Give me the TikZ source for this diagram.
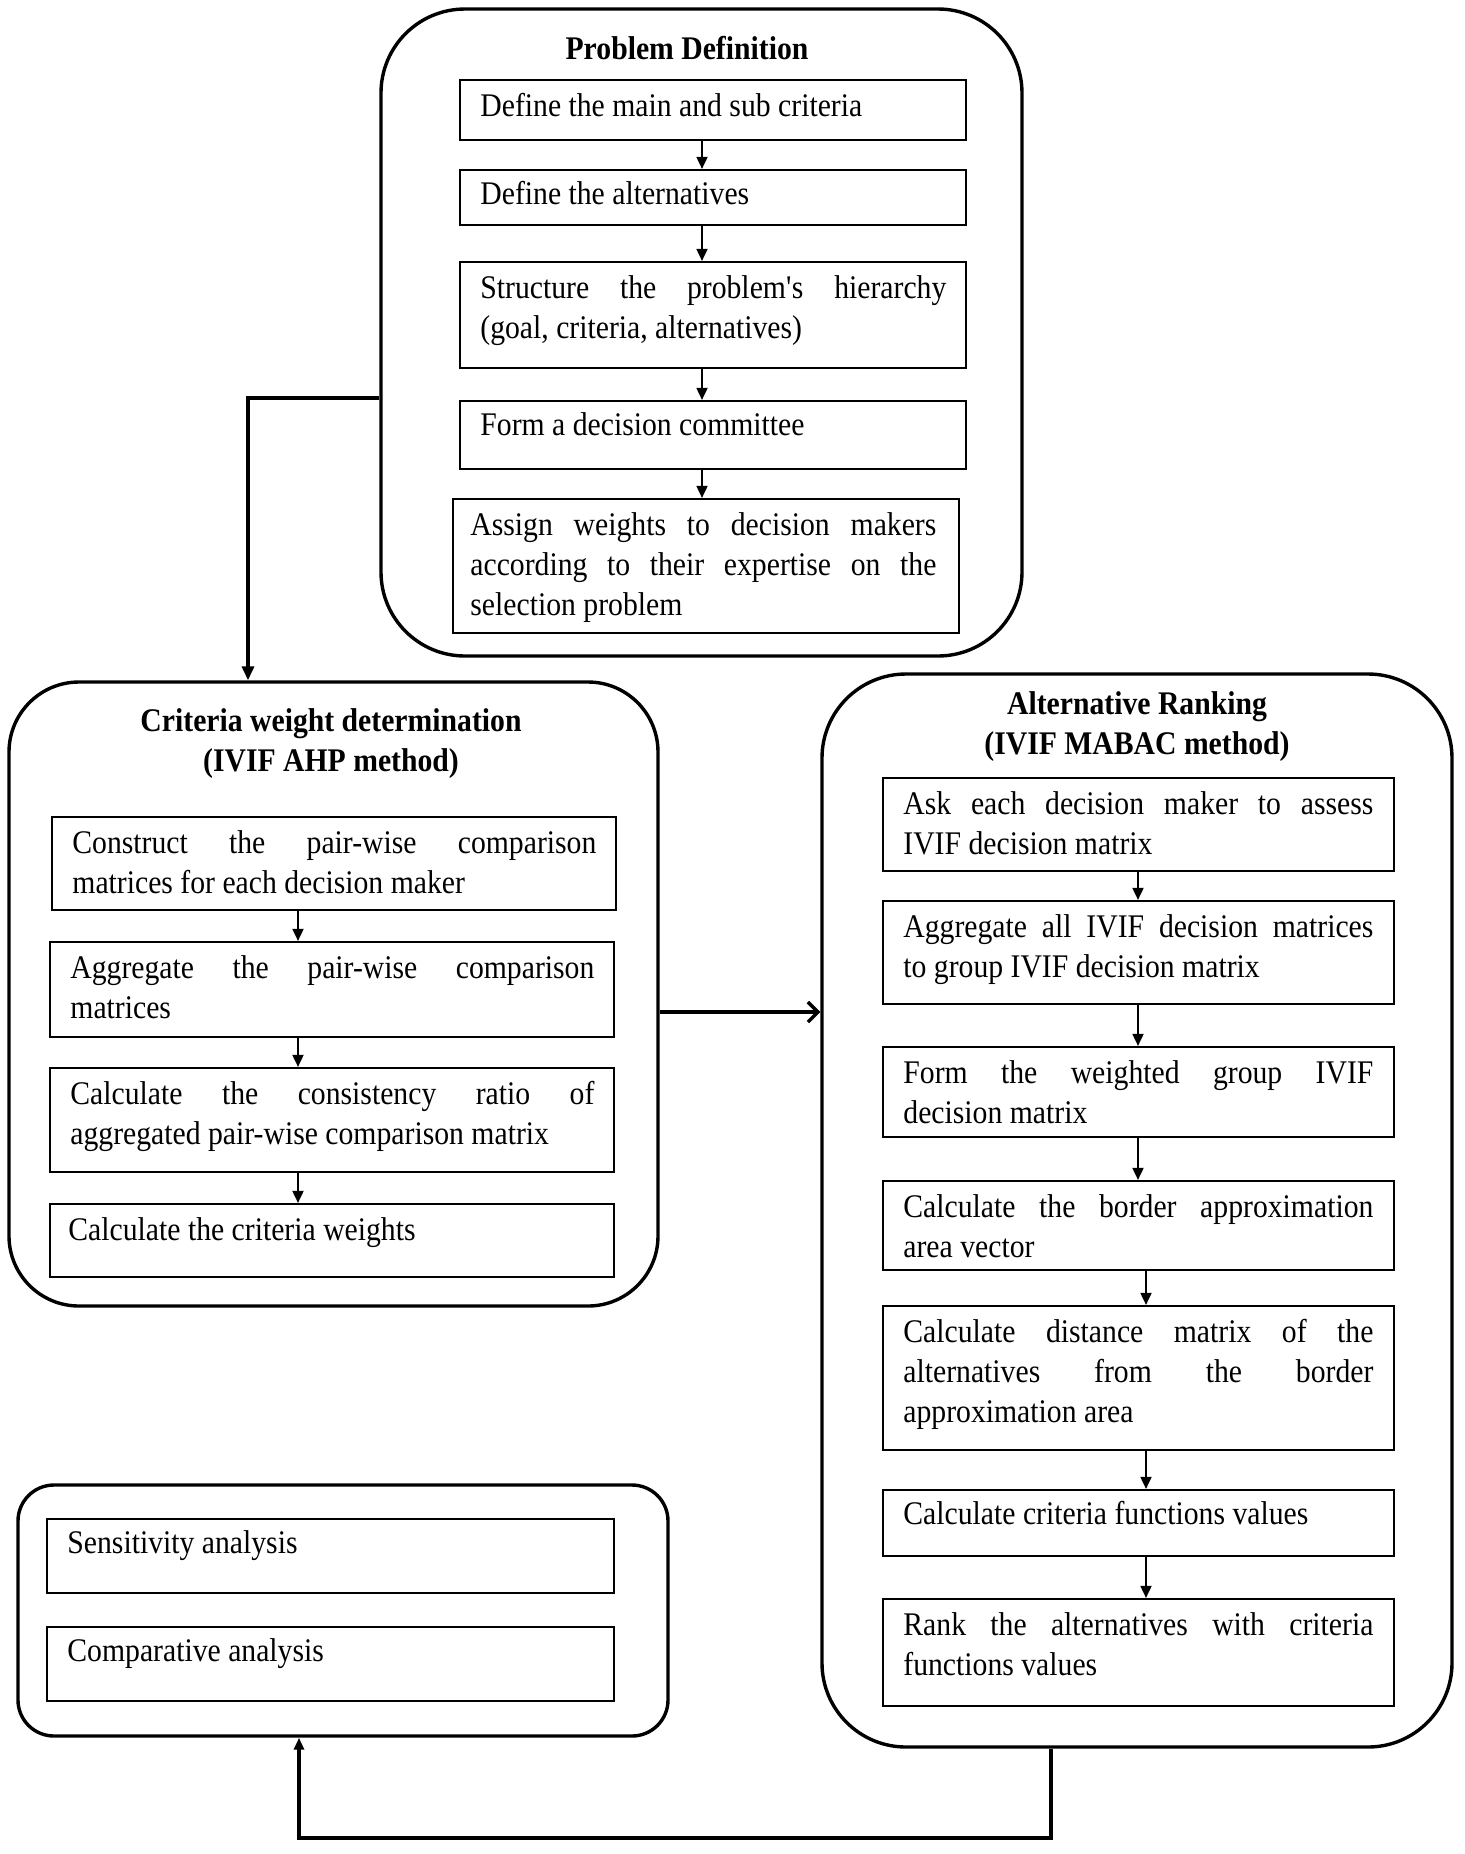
\documentclass[tikz,border=0pt]{standalone}
\usepackage{fontspec}
\setmainfont{Liberation Serif}[FakeStretch=0.9]
\usetikzlibrary{fit,arrows.meta}
\newcommand\myfontA{\fontsize{16.5pt}{20pt}\selectfont\hyphenpenalty=10000\exhyphenpenalty=10000\tolerance=10000\hbadness=10000}
\tikzset{
  ibox/.style={draw, line width=1.1pt, inner sep=0pt},
  obox/.style={draw, line width=1.7pt, inner sep=0pt},
  txt/.style={anchor=north west, inner sep=0pt, align=justify, font=\myfontA},
  ttl/.style={anchor=north, inner sep=0pt, align=center, font=\myfontA\bfseries},
  iarr/.style={line width=0.9pt, -{Triangle[length=6pt,width=5.5pt]}},
  big/.style={line width=1.7pt},
}
\begin{document}
\begin{tikzpicture}[x=0.5pt,y=-0.5pt]
\useasboundingbox (0,0) rectangle (1464,1854);
% helper coordinates
\coordinate (xa) at (702,0);
\coordinate (xc) at (298,0);
\coordinate (xr) at (1138,0);
\coordinate (xs) at (1146,0);
\coordinate (yl) at (0,398);
\coordinate (ym) at (0,1012);
\coordinate (bc) at (1051,1838);
\coordinate (bl) at (299,0);
\coordinate (cl) at (248,0);

% ---------- Problem Definition ----------
\node[obox, rounded corners=42pt, fit={(381,9) (1022,656)}] (pd) {};
\node[ttl] (pdt) at (687,25) {\rule{0pt}{17pt}Problem Definition};
\node[ibox, fit={(460,80) (966,140)}] (p1) {};
\node[ibox, fit={(460,170) (966,225)}] (p2) {};
\node[ibox, fit={(460,262) (966,368)}] (p3) {};
\node[ibox, fit={(460,401) (966,469)}] (p4) {};
\node[ibox, fit={(453,499) (959,633)}] (p5) {};
\node[txt, text width=233pt] (p1t) at (480,80) {\rule{0pt}{18pt}Define the main and sub criteria};
\node[txt, text width=233pt] (p2t) at (480,170) {\rule{0pt}{17pt}Define the alternatives};
\node[txt, text width=233pt] (p3t) at (480,262) {\rule{0pt}{18pt}Structure the problem\textquotesingle s hierarchy\linebreak (goal, criteria, alternatives)};
\node[txt, text width=233pt] (p4t) at (480,401) {\rule{0pt}{17pt}Form a decision committee};
\node[txt, text width=233pt] (p5t) at (470,499) {\rule{0pt}{18pt}Assign weights to decision makers\linebreak according to their expertise on the\linebreak selection problem};
\draw[iarr] (p1.south -| xa) -- (p2.north -| xa);
\draw[iarr] (p2.south -| xa) -- (p3.north -| xa);
\draw[iarr] (p3.south -| xa) -- (p4.north -| xa);
\draw[iarr] (p4.south -| xa) -- (p5.north -| xa);

% ---------- Criteria weight determination ----------
\node[obox, rounded corners=35pt, fit={(9,682) (658,1306)}] (cw) {};
\node[ttl] (cwt) at (331,693) {\rule{0pt}{19pt}Criteria weight determination\\(IVIF AHP method)};
\node[ibox, fit={(52,817) (616,910)}] (c1) {};
\node[ibox, fit={(50,942) (614,1037)}] (c2) {};
\node[ibox, fit={(50,1068) (614,1172)}] (c3) {};
\node[ibox, fit={(50,1204) (614,1277)}] (c4) {};
\node[txt, text width=262pt] (c1t) at (72,817) {\rule{0pt}{18pt}Construct the pair-wise comparison\linebreak matrices for each decision maker};
\node[txt, text width=262pt] (c2t) at (70,942) {\rule{0pt}{18pt}Aggregate the pair-wise comparison\linebreak matrices};
\node[txt, text width=262pt] (c3t) at (70,1068) {\rule{0pt}{18pt}Calculate the consistency ratio of\linebreak aggregated pair-wise comparison matrix};
\node[txt, text width=262pt] (c4t) at (68,1204) {\rule{0pt}{18pt}Calculate the criteria weights};
\draw[iarr] (c1.south -| xc) -- (c2.north -| xc);
\draw[iarr] (c2.south -| xc) -- (c3.north -| xc);
\draw[iarr] (c3.south -| xc) -- (c4.north -| xc);

% ---------- Alternative Ranking ----------
\node[obox, rounded corners=42pt, fit={(822,674) (1452,1747)}] (ar) {};
\node[ttl] (art) at (1137,676) {\rule{0pt}{19pt}Alternative Ranking\\(IVIF MABAC method)};
\node[ibox, fit={(883,778) (1394,871)}] (a1) {};
\node[ibox, fit={(883,901) (1394,1004)}] (a2) {};
\node[ibox, fit={(883,1047) (1394,1137)}] (a3) {};
\node[ibox, fit={(883,1181) (1394,1270)}] (a4) {};
\node[ibox, fit={(883,1306) (1394,1450)}] (a5) {};
\node[ibox, fit={(883,1490) (1394,1556)}] (a6) {};
\node[ibox, fit={(883,1599) (1394,1706)}] (a7) {};
\node[txt, text width=235pt] (a1t) at (903,778) {\rule{0pt}{18pt}Ask each decision maker to assess\linebreak IVIF decision matrix};
\node[txt, text width=235pt] (a2t) at (903,901) {\rule{0pt}{18pt}Aggregate all IVIF decision matrices\linebreak to group IVIF decision matrix};
\node[txt, text width=235pt] (a3t) at (903,1047) {\rule{0pt}{18pt}Form the weighted group IVIF\linebreak decision matrix};
\node[txt, text width=235pt] (a4t) at (903,1181) {\rule{0pt}{18pt}Calculate the border approximation\linebreak area vector};
\node[txt, text width=235pt] (a5t) at (903,1306) {\rule{0pt}{18pt}Calculate distance matrix of the\linebreak alternatives from the border\linebreak approximation area};
\node[txt, text width=235pt] (a6t) at (903,1490) {\rule{0pt}{17pt}Calculate criteria functions values};
\node[txt, text width=235pt] (a7t) at (903,1599) {\rule{0pt}{18pt}Rank the alternatives with criteria\linebreak functions values};
\draw[iarr] (a1.south -| xr) -- (a2.north -| xr);
\draw[iarr] (a2.south -| xr) -- (a3.north -| xr);
\draw[iarr] (a3.south -| xr) -- (a4.north -| xr);
\draw[iarr] (a4.south -| xs) -- (a5.north -| xs);
\draw[iarr] (a5.south -| xs) -- (a6.north -| xs);
\draw[iarr] (a6.south -| xs) -- (a7.north -| xs);

% ---------- Analysis ----------
\node[obox, rounded corners=18pt, fit={(18,1485) (668,1736)}] (an) {};
\node[ibox, fit={(47,1519) (614,1593)}] (s1) {};
\node[ibox, fit={(47,1627) (614,1701)}] (s2) {};
\node[txt, text width=263pt] (s1t) at (67,1519) {\rule{0pt}{17pt}Sensitivity analysis};
\node[txt, text width=263pt] (s2t) at (67,1627) {\rule{0pt}{17pt}Comparative analysis};

% ---------- main connectors ----------
\draw[big, -{Triangle[length=7pt,width=6pt]}] (pd.west |- yl) -| (cw.north -| cl);
\draw[big, -{Straight Barb[length=5pt,width=10pt]}] (cw.east |- ym) -- (ar.west |- ym);
\draw[big, -{Triangle[length=6pt,width=5pt]}] (ar.south -| bc) -- (bc) -| (an.south -| bl);
\end{tikzpicture}
\end{document}
